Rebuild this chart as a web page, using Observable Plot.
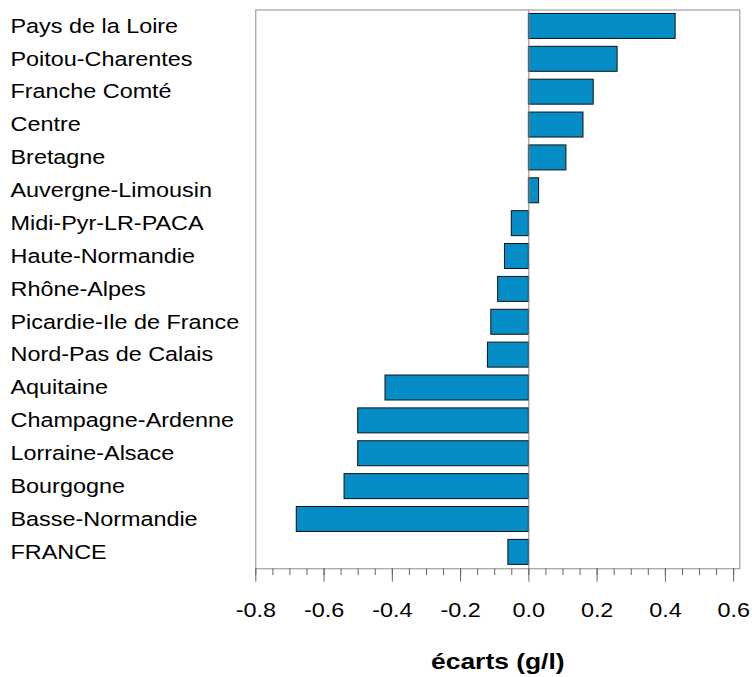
<!DOCTYPE html>
<html>
<head>
<meta charset="utf-8">
<script src="https://cdn.jsdelivr.net/npm/d3@7"></script>
<script src="https://cdn.jsdelivr.net/npm/@observablehq/plot@0.6"></script>
<style>
  html, body { margin: 0; padding: 0; background: #fff; }
  #chart svg { display: block; }
</style>
</head>
<body>
<div id="chart"></div>
<script>
const regions = [
  "Pays de la Loire", "Poitou-Charentes", "Franche Comté", "Centre", "Bretagne",
  "Auvergne-Limousin", "Midi-Pyr-LR-PACA", "Haute-Normandie", "Rhône-Alpes",
  "Picardie-Ile de France", "Nord-Pas de Calais", "Aquitaine", "Champagne-Ardenne",
  "Lorraine-Alsace", "Bourgogne", "Basse-Normandie", "FRANCE"
];
const ecarts = [
  0.43, 0.26, 0.19, 0.16, 0.11,
  0.03, -0.05, -0.07, -0.09,
  -0.11, -0.12, -0.42, -0.50,
  -0.50, -0.54, -0.68, -0.06
];
const majorTicks = [-0.8, -0.6, -0.4, -0.2, 0.0, 0.2, 0.4, 0.6];
const minorTicks = [-0.8, -0.75, -0.7, -0.65, -0.6, -0.55, -0.5, -0.45, -0.4, -0.35, -0.3, -0.25, -0.2, -0.15, -0.1, -0.05, 0, 0.05, 0.1, 0.15, 0.2, 0.25, 0.3, 0.35, 0.4, 0.45, 0.5, 0.55, 0.6];
const xTitle = "écarts (g/l)";

const data = regions.map((r, i) => ({region: r, value: ecarts[i]}));

const font = "'Liberation Sans', Arial, Helvetica, sans-serif";

const chart = Plot.plot({
  width: 752,
  height: 677,
  marginLeft: 255.3,
  marginRight: 12.7,
  marginTop: 9.5,
  marginBottom: 108.7,
  style: {fontFamily: font, background: "#fff"},
  x: {domain: [-0.8, 0.618]},
  y: {domain: regions, axis: null, paddingInner: 0.24, paddingOuter: 0.12, round: false},
  marks: [
    Plot.barX(data, {y: "region", x: "value", fill: "#058DC7", stroke: "#111", strokeWidth: 1}),
    Plot.ruleX([0], {stroke: "#8a8378", strokeWidth: 1}),
    Plot.frame({stroke: "#8c8c8c", strokeWidth: 1}),
    Plot.axisX(minorTicks, {tickSize: 6.7, tickFormat: () => "", stroke: "#666", label: null}),
    Plot.axisX(majorTicks, {tickSize: 13.4, tickPadding: 21, tickFormat: d => d.toFixed(1), fontSize: 19.5, fill: "#000", stroke: "#666", label: null}),
    Plot.text(data, {y: "region", text: "region", frameAnchor: "left", textAnchor: "start", dx: -245.3, fontSize: 19.5, fill: "#000"}),
    Plot.text([xTitle], {text: d => d, frameAnchor: "bottom", dy: 100, fontSize: 22, fontWeight: "bold", fill: "#000"})
  ]
});

chart.querySelectorAll("text").forEach(t => {
  const tr = t.getAttribute("transform") || "";
  if (tr) t.setAttribute("transform", tr + " scale(1.2,1)");
});

document.getElementById("chart").appendChild(chart);
</script>
</body>
</html>
